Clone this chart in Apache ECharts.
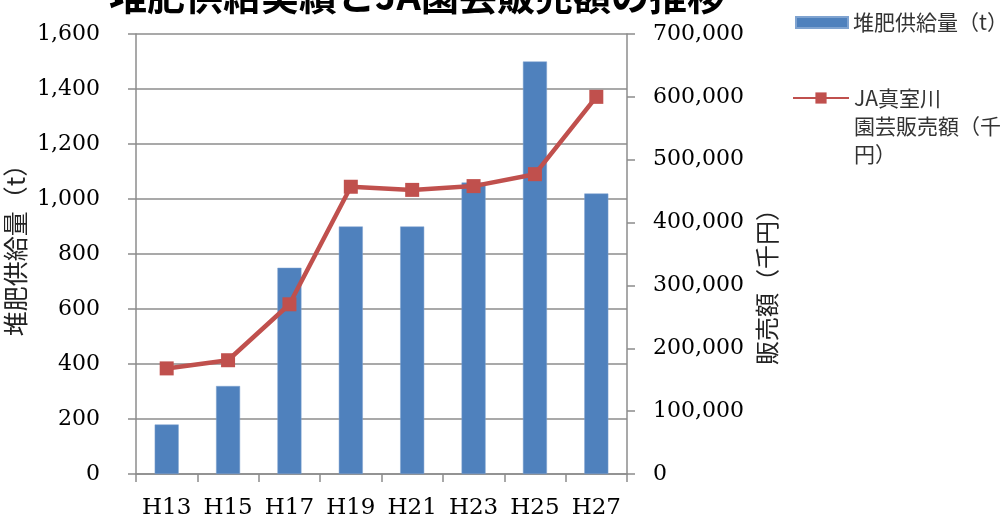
<!DOCTYPE html>
<html><head><meta charset="utf-8">
<script src="https://cdn.jsdelivr.net/npm/echarts@6/dist/echarts.min.js"></script>
<style>html,body{margin:0;padding:0;background:#fff}#c{width:1004px;height:520px}</style>
</head><body><div id="c"></div>
<script>
const categories = ['H13','H15','H17','H19','H21','H23','H25','H27'];
const compost = [180, 320, 750, 900, 900, 1060, 1500, 1020];
const sales = [168000, 181000, 270000, 457000, 452000, 458000, 477000, 600000];
const barName = '堆肥供給量（t）';
const lineName = 'JA真室川園芸販売額（千円）';
const lineLegendLines = ['JA真室川', '園芸販売額（千', '円）'];
const titleText = '堆肥供給実績とJA園芸販売額の推移';
const leftAxisName = '堆肥供給量（t）';
const rightAxisName = '販売額（千円）';

const serif = 'DejaVu Serif';
const sans = '"Noto Sans CJK JP", "Noto Sans", sans-serif';
const axisGray = '#8c8c8c';

const chart = echarts.init(document.getElementById('c'), null, {renderer: 'canvas'});
chart.setOption({
  animation: false,
  backgroundColor: '#fff',
  title: {
    text: titleText, left: 412, top: -28, textAlign: 'center',
    textStyle: {fontFamily: sans, fontSize: 38, fontWeight: 'bold', color: '#000'}
  },
  legend: [{
    data: [barName], orient: 'vertical', left: 790, top: 7,
    itemWidth: 52, itemHeight: 11, icon: 'rect',
    textStyle: {fontFamily: sans, fontSize: 21, color: '#333'}
  }, {
    data: [lineName], orient: 'vertical', left: 787, top: 23,
    itemWidth: 56, itemHeight: 14,
    formatter: () => ' \n \n' + lineLegendLines.join('\n'),
    textStyle: {fontFamily: sans, fontSize: 21, lineHeight: 28, color: '#333'}
  }],
  grid: {left: 136, right: 377, top: 34, bottom: 46, containLabel: false},
  xAxis: {
    type: 'category', data: categories, boundaryGap: true,
    axisLine: {lineStyle: {color: axisGray, width: 1.5}},
    axisTick: {show: true, length: 8, alignWithLabel: false, lineStyle: {color: axisGray, width: 1.5}},
    axisLabel: {fontFamily: serif, fontSize: 23, color: '#000', margin: 23, interval: 0}
  },
  yAxis: [{
    type: 'value', min: 0, max: 1600, interval: 200, position: 'left',
    name: leftAxisName, nameLocation: 'middle', nameGap: 108,
    nameTextStyle: {fontFamily: sans, fontSize: 25, color: '#222', padding: [0, 0, 0, 20]},
    axisLine: {show: true, lineStyle: {color: axisGray, width: 1.5}},
    axisTick: {show: true, length: 8, lineStyle: {color: axisGray, width: 1.5}},
    splitLine: {show: true, lineStyle: {color: axisGray, width: 1.5}},
    axisLabel: {fontFamily: serif, fontSize: 22, color: '#000', margin: 36,
      formatter: v => v.toLocaleString('en-US')}
  }, {
    type: 'value', min: 0, max: 700000, interval: 100000, position: 'right',
    name: rightAxisName, nameLocation: 'middle', nameGap: 128,
    nameTextStyle: {fontFamily: sans, fontSize: 24, color: '#222', padding: [0, 54, 0, 0]},
    axisLine: {show: true, lineStyle: {color: axisGray, width: 1.5}},
    axisTick: {show: true, length: 8, lineStyle: {color: axisGray, width: 1.5}},
    splitLine: {show: false},
    axisLabel: {fontFamily: serif, fontSize: 22, color: '#000', margin: 26,
      formatter: v => v.toLocaleString('en-US')}
  }],
  series: [{
    name: barName, type: 'bar', data: compost, yAxisIndex: 0, barWidth: 24,
    itemStyle: {color: '#4F81BD', borderColor: '#7fa3d0', borderWidth: 0.5}
  }, {
    name: lineName, type: 'line', data: sales, yAxisIndex: 1,
    symbol: 'rect', symbolSize: 14,
    lineStyle: {color: '#C0504D', width: 4.5},
    itemStyle: {color: '#C0504D'}
  }]
});
</script></body></html>
